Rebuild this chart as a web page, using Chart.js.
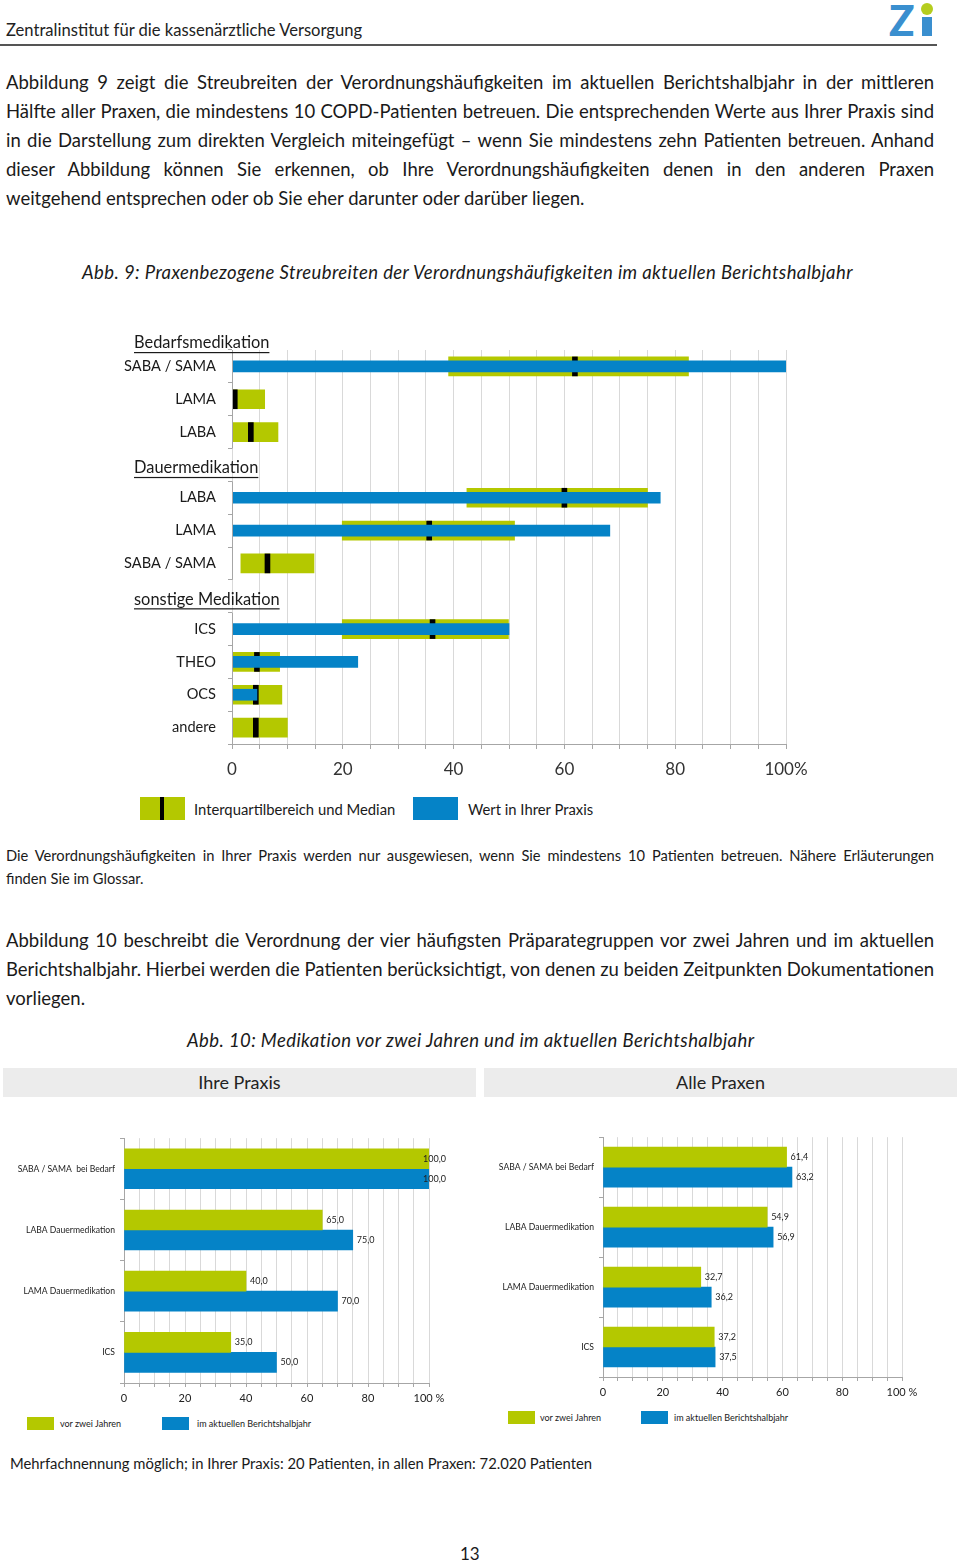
<!DOCTYPE html>
<html><head><meta charset="utf-8">
<script src="https://cdn.jsdelivr.net/npm/chart.js@4.4.0/dist/chart.umd.min.js"></script>
<style>
html,body{margin:0;padding:0;background:#fff;}
body{width:960px;height:1562px;position:relative;font-family:Lato,'Open Sans',sans-serif;color:#1a1a1a;overflow:hidden;}
.abs{position:absolute;white-space:nowrap;}
.jl{position:absolute;white-space:nowrap;display:inline-block;}
.p18{font-size:18.5px;line-height:20px;}
.cap{font-size:18.5px;line-height:20px;font-style:italic;letter-spacing:0.4px;}
.p14{font-size:14.7px;line-height:18px;}
.sw{position:absolute;}
canvas{position:absolute;}
</style></head>
<body>
<!-- header -->
<div class="abs" style="left:6px;top:20px;font-size:16.6px;color:#222;">Zentralinstitut für die kassenärztliche Versorgung</div>
<div class="abs" style="left:0;top:44px;width:937px;height:1.5px;background:#555;"></div>
<div class="abs" style="left:889px;top:-5px;font:900 42px Lato,sans-serif;color:#3a8fcf;">Z</div>
<div class="abs" style="left:922px;top:17px;width:10px;height:19px;background:#3a8fcf;"></div>
<div class="abs" style="left:921px;top:3px;width:12px;height:12px;border-radius:50%;background:#b5cd1e;"></div>

<!-- paragraph 1 -->
<span class="jl p18" data-w="928" style="left:6px;top:72px;">Abbildung 9 zeigt die Streubreiten der Verordnungshäufigkeiten im aktuellen Berichtshalbjahr in der mittleren</span>
<span class="jl p18" data-w="928" style="left:6px;top:101px;">Hälfte aller Praxen, die mindestens 10 COPD-Patienten betreuen. Die entsprechenden Werte aus Ihrer Praxis sind</span>
<span class="jl p18" data-w="928" style="left:6px;top:130px;">in die Darstellung zum direkten Vergleich miteingefügt – wenn Sie mindestens zehn Patienten betreuen. Anhand</span>
<span class="jl p18" data-w="928" style="left:6px;top:159px;">dieser Abbildung können Sie erkennen, ob Ihre Verordnungshäufigkeiten denen in den anderen Praxen</span>
<span class="jl p18" style="left:6px;top:188px;">weitgehend entsprechen oder ob Sie eher darunter oder darüber liegen.</span>

<div class="abs cap" style="left:82px;top:262px;">Abb. 9: Praxenbezogene Streubreiten der Verordnungshäufigkeiten im aktuellen Berichtshalbjahr</div>

<canvas id="c1" width="960" height="470" style="left:0;top:320px;"></canvas>

<!-- legend 1 -->
<div class="sw" style="left:140px;top:797px;width:45px;height:23px;background:#b4c800;"></div>
<div class="sw" style="left:160px;top:797px;width:4px;height:23px;background:#000;"></div>
<div class="abs" style="left:194px;top:800px;font-size:14.8px;">Interquartilbereich und Median</div>
<div class="sw" style="left:413px;top:797px;width:45px;height:23px;background:#0583c7;"></div>
<div class="abs" style="left:468px;top:800px;font-size:14.8px;">Wert in Ihrer Praxis</div>

<!-- note -->
<span class="jl p14" data-w="928" style="left:6px;top:846px;">Die Verordnungshäufigkeiten in Ihrer Praxis werden nur ausgewiesen, wenn Sie mindestens 10 Patienten betreuen. Nähere Erläuterungen</span>
<span class="jl p14" style="left:6px;top:869px;">finden Sie im Glossar.</span>

<!-- paragraph 2 -->
<span class="jl p18" data-w="928" style="left:6px;top:930px;">Abbildung 10 beschreibt die Verordnung der vier häufigsten Präparategruppen vor zwei Jahren und im aktuellen</span>
<span class="jl p18" data-w="928" style="left:6px;top:959px;">Berichtshalbjahr. Hierbei werden die Patienten berücksichtigt, von denen zu beiden Zeitpunkten Dokumentationen</span>
<span class="jl p18" style="left:6px;top:988px;">vorliegen.</span>

<div class="abs cap" style="left:187px;top:1030px;">Abb. 10: Medikation vor zwei Jahren und im aktuellen Berichtshalbjahr</div>

<div class="abs" style="left:3px;top:1068px;width:473px;height:29px;background:#ececec;"></div>
<div class="abs" style="left:3px;top:1071px;width:473px;text-align:center;font-size:18px;color:#222;">Ihre Praxis</div>
<div class="abs" style="left:484px;top:1068px;width:473px;height:29px;background:#ececec;"></div>
<div class="abs" style="left:484px;top:1071px;width:473px;text-align:center;font-size:18px;color:#222;">Alle Praxen</div>

<canvas id="c2" width="480" height="282" style="left:0;top:1128px;"></canvas>
<canvas id="c3" width="480" height="277" style="left:480px;top:1127px;"></canvas>

<!-- legends 2 -->
<div class="sw" style="left:27px;top:1417px;width:27px;height:13px;background:#b4c800;"></div>
<div class="abs" style="left:60px;top:1418px;font-size:9px;">vor zwei Jahren</div>
<div class="sw" style="left:162px;top:1417px;width:27px;height:13px;background:#0583c7;"></div>
<div class="abs" style="left:197px;top:1418px;font-size:9px;">im aktuellen Berichtshalbjahr</div>

<div class="sw" style="left:508px;top:1411px;width:27px;height:13px;background:#b4c800;"></div>
<div class="abs" style="left:540px;top:1412px;font-size:9px;">vor zwei Jahren</div>
<div class="sw" style="left:641px;top:1411px;width:27px;height:13px;background:#0583c7;"></div>
<div class="abs" style="left:674px;top:1412px;font-size:9px;">im aktuellen Berichtshalbjahr</div>

<div class="abs" style="left:10px;top:1454px;font-size:14.8px;">Mehrfachnennung möglich; in Ihrer Praxis: 20 Patienten, in allen Praxen: 72.020 Patienten</div>
<div class="abs" style="left:460px;top:1543px;font-size:17px;">13</div>

<script>
// ---------- Data: Abb. 9 ----------
const c1Labels   = ['SABA / SAMA','LAMA','LABA','','LABA','LAMA','SABA / SAMA','','ICS','THEO','OCS','andere'];
const c1Groups   = ['Bedarfsmedikation','Dauermedikation','sonstige Medikation'];
const c1GroupHeaderRows = [-1, 3, 7];          // row index of each group heading (-1 = above first row)
const c1GroupRows = [[0,2],[4,6],[8,11]];       // first/last row of each group
const iqrLow  = [39.1, 0,   0,   null, 42.4, 19.9, 1.6,  null, 19.9, 0,    0,   0];
const iqrHigh = [82.4, 5.9, 8.3, null, 75.0, 51.0, 14.8, null, 49.9, 8.6,  9.0, 10.0];
const median  = [61.9, 0.5, 3.4, null, 60.0, 35.6, 6.4,  null, 36.2, 4.5,  4.3, 4.3];
const praxis  = [100,  null,null,null, 77.3, 68.2, null, null, 50.0, 22.7, 4.5, null];
const medianHalfWidth = 0.45;
const c1TickLabels = {0:'0',20:'20',40:'40',60:'60',80:'80',100:'100%'};

// ---------- Data: Abb. 10 ----------
const c2LabelsLeft  = ['SABA / SAMA  bei Bedarf','LABA Dauermedikation','LAMA Dauermedikation','ICS'];
const c2LabelsRight = ['SABA / SAMA bei Bedarf','LABA Dauermedikation','LAMA Dauermedikation','ICS'];
const praxisVor     = [100.0, 65.0, 40.0, 35.0];
const praxisAktuell = [100.0, 75.0, 70.0, 50.0];
const alleVor       = [61.4, 54.9, 32.7, 37.2];
const alleAktuell   = [63.2, 56.9, 36.2, 37.5];
const c2TickLabels  = {0:'0',20:'20',40:'40',60:'60',80:'80',100:'100 %'};
const seriesNames   = ['vor zwei Jahren','im aktuellen Berichtshalbjahr'];

const GREEN = '#b4c800', BLUE = '#0583c7';
const FONT = 'Lato, "Open Sans", sans-serif';

// justify text lines
document.querySelectorAll('.jl[data-w]').forEach(el=>{
  const target = parseFloat(el.dataset.w);
  const w = el.getBoundingClientRect().width;
  const spaces = (el.textContent.match(/ /g)||[]).length;
  el.style.wordSpacing = ((target - w)/spaces) + 'px';
});

// ---------- Chart 1 ----------
const groupPlugin = {
  id:'groups',
  afterDraw(chart){
    const {ctx, scales:{y}} = chart;
    const area = chart.chartArea;
    const rowH = y.getPixelForValue(1) - y.getPixelForValue(0);
    ctx.save();
    ctx.strokeStyle = '#a6a6a6'; ctx.lineWidth = 1;
    c1GroupRows.forEach(([a,b])=>{
      const y0 = y.getPixelForValue(a) - rowH/2, y1 = y.getPixelForValue(b) + rowH/2;
      ctx.beginPath(); ctx.moveTo(area.left+0.5, y0); ctx.lineTo(area.left+0.5, y1); ctx.stroke();
    });
    ctx.fillStyle = '#1a1a1a';
    ctx.font = '16.4px ' + FONT;
    ctx.textAlign = 'left'; ctx.textBaseline = 'middle';
    c1Groups.forEach((g,i)=>{
      const r = c1GroupHeaderRows[i];
      const yy = r < 0 ? y.getPixelForValue(0) - rowH/2 - 7 : y.getPixelForValue(r) + 3;
      const x = 134;
      ctx.fillText(g, x, yy);
      const w = ctx.measureText(g).width;
      ctx.fillRect(x, yy + 9, w, 1.2);
    });
    ctx.restore();
  }
};

new Chart(document.getElementById('c1'), {
  type:'bar',
  data:{
    labels:c1Labels,
    datasets:[
      {label:'Wert in Ihrer Praxis', data:praxis.map(v=>v==null?null:[0,v]), backgroundColor:BLUE, barThickness:11, grouped:false, order:1},
      {label:'Median', data:median.map(v=>v==null?null:[v-medianHalfWidth, v+medianHalfWidth]), backgroundColor:'#000', barThickness:19, grouped:false, order:2},
      {label:'Interquartilbereich', data:iqrLow.map((v,i)=>v==null?null:[v, iqrHigh[i]]), backgroundColor:GREEN, barThickness:19, grouped:false, order:3}
    ]
  },
  options:{
    indexAxis:'y', responsive:false, animation:false,
    layout:{padding:{top:30,right:174,left:0,bottom:0}},
    plugins:{legend:{display:false}, tooltip:{enabled:false}},
    scales:{
      x:{min:0,max:100,
         ticks:{stepSize:5, autoSkip:false, maxRotation:0, color:'#333', font:{size:17,family:FONT}, padding:10,
                callback:v=> (v in c1TickLabels) ? c1TickLabels[v] : ''},
         grid:{color:'#d9d9d9', tickLength:5, tickColor:'#a6a6a6'},
         border:{color:'#a6a6a6'},
         afterFit(s){ s.height = 46; }},
      y:{ticks:{color:'#1a1a1a', font:{size:14.6,family:FONT}, padding:12, autoSkip:false},
         grid:{display:true, drawOnChartArea:false, offset:true, tickLength:4, color:'#a6a6a6'},
         border:{display:false},
         afterFit(s){ s.width = 232; }}
    }
  },
  plugins:[groupPlugin]
});

// ---------- Chart 2/3 ----------
const valueLabels = {
  id:'valueLabels',
  afterDatasetsDraw(chart){
    const {ctx, chartArea} = chart;
    ctx.save();
    ctx.font = '9px ' + FONT; ctx.fillStyle = '#222';
    ctx.textAlign = 'left'; ctx.textBaseline = 'middle';
    chart.data.datasets.forEach((ds, di)=>{
      chart.getDatasetMeta(di).data.forEach((el, i)=>{
        const txt = ds.data[i].toFixed(1).replace('.', ',');
        const x = Math.min(el.x + 4, chartArea.right - 6);
        ctx.fillText(txt, x, el.y);
      });
    });
    ctx.restore();
  }
};

function makeChart(id, labels, vor, aktuell, yWidth, padTop, padRight){
  return new Chart(document.getElementById(id), {
    type:'bar',
    data:{labels, datasets:[
      {label:seriesNames[0], data:vor, backgroundColor:GREEN, barThickness:20, categoryPercentage:0.69, barPercentage:1},
      {label:seriesNames[1], data:aktuell, backgroundColor:BLUE, barThickness:20, categoryPercentage:0.69, barPercentage:1}
    ]},
    options:{
      indexAxis:'y', responsive:false, animation:false,
      layout:{padding:{top:padTop,right:padRight,left:0,bottom:0}},
      plugins:{legend:{display:false}, tooltip:{enabled:false}},
      scales:{
        x:{min:0,max:100,
           ticks:{stepSize:5, autoSkip:false, maxRotation:0, color:'#222', font:{size:11,family:FONT}, padding:5,
                  callback:v=> (v in c2TickLabels) ? c2TickLabels[v] : ''},
           grid:{color:'#d9d9d9', tickLength:4, tickColor:'#a6a6a6'},
           border:{color:'#a6a6a6'},
           afterFit(s){ s.height = 27; }},
        y:{ticks:{color:'#222', font:{size:8.6,family:FONT}, padding:5, autoSkip:false},
           grid:{display:true, drawOnChartArea:false, offset:true, tickLength:4, color:'#a6a6a6'},
           border:{color:'#a6a6a6'},
           afterFit(s){ s.width = yWidth; }}
      }
    },
    plugins:[valueLabels]
  });
}
makeChart('c2', c2LabelsLeft, praxisVor, praxisAktuell, 124, 9, 51);
makeChart('c3', c2LabelsRight, alleVor, alleAktuell, 123, 10, 58);
</script>
</body></html>
